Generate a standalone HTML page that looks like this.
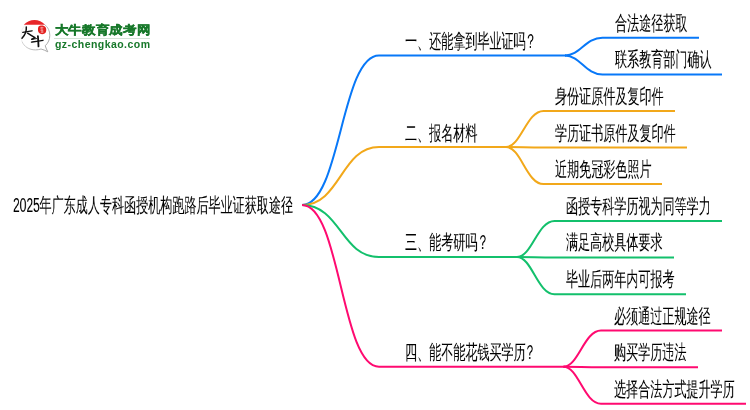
<!DOCTYPE html>
<html><head><meta charset="utf-8">
<style>
html,body{margin:0;padding:0;background:#fff;}
body{width:750px;height:410px;position:relative;overflow:hidden;font-family:"Liberation Sans",sans-serif;}
.t{position:absolute;white-space:nowrap;color:#000;font-size:20px;line-height:19px;transform-origin:0 0;transform:scaleX(0.6035);will-change:transform;-webkit-text-stroke:0.06px #000;}
svg{position:absolute;left:0;top:0;}
</style></head><body>
<svg width="750" height="410" viewBox="0 0 750 410" fill="none" stroke-width="2" stroke-linecap="butt">
  <!-- main branches -->
  <path d="M302,205 C340.5,205 341,55.5 379,55.5 L566,55.5" stroke="#0878F8"/>
  <path d="M302,205 C340.5,205 341,147 379,147 L506,147" stroke="#F2A81A"/>
  <path d="M302,205 C340.5,205 341,257 379,257 L518,257" stroke="#13C06C"/>
  <path d="M302,205 C340.5,205 341,366.7 379,366.7 L566,366.7" stroke="#FF0A70"/>
              <!-- branch 1 subs -->
  <path d="M565,55.5 C580,55.5 585.5,37.8 602.5,37.8 L699,37.8" stroke="#0878F8"/>
  <path d="M565,55.5 C580,55.5 585.5,74.6 602.5,74.6 L722,74.6" stroke="#0878F8"/>
  <!-- branch 2 subs -->
  <path d="M506,147 C521,147 526.5,111 543.5,111 L675,111" stroke="#F2A81A"/>
  <path d="M506,147 C521,147 526.5,147.6 543.5,147.6 L687,147.6" stroke="#F2A81A"/>
  <path d="M506,147 C521,147 526.5,184.1 543.5,184.1 L662,184.1" stroke="#F2A81A"/>
  <!-- branch 3 subs -->
  <path d="M517,257 C532,257 537.5,220.9 554.5,220.9 L722,220.9" stroke="#13C06C"/>
  <path d="M517,257 C532,257 537.5,257.6 554.5,257.6 L674,257.6" stroke="#13C06C"/>
  <path d="M517,257 C532,257 537.5,294.2 554.5,294.2 L686,294.2" stroke="#13C06C"/>
  <!-- branch 4 subs -->
  <path d="M563.5,366.7 C578.5,366.7 584.0,330.5 601.0,330.5 L722,330.5" stroke="#FF0A70"/>
  <path d="M563.5,366.7 C578.5,366.7 584.0,367.2 601.0,367.2 L698,367.2" stroke="#FF0A70"/>
  <path d="M563.5,366.7 C578.5,366.7 584.0,403.7 601.0,403.7 L746,403.7" stroke="#FF0A70"/>
</svg>

<div class="logo" style="position:absolute;left:0;top:0;width:160px;height:60px;will-change:transform;">
<svg width="60" height="60" viewBox="0 0 60 60" style="left:0;top:0;">
  <defs><linearGradient id="og" x1="0" y1="0" x2="1" y2="0.6"><stop offset="0" stop-color="#e6e6e6"/><stop offset="1" stop-color="#a8a8a8"/></linearGradient></defs>
  <path d="M44.5,24.5 C48,27 49.8,31 49.8,35.2 C49.8,39.5 48.2,43 45.2,45.8 C46,48 46.8,50 47.8,51.8 C45.5,50.5 43,49.5 41,49 C39.2,49.6 37.3,49.9 35.5,49.9 C29,49.9 24,46.5 22,41.5" stroke="url(#og)" stroke-width="1" fill="none"/>
  <path d="M22,41.5 C21.2,39.5 21,37.5 21,35.5 C21,31 22.8,27.2 25.5,24.8" stroke="#ececec" stroke-width="0.8" fill="none"/>
  <path d="M23.8,24.8 C26.5,21.6 30.5,20 34.5,20 C38.5,20 42.3,21.6 45,24.8 Z" fill="#e8262a"/>
  <path d="M38.6,26.6 C40.3,24.9 44.2,25.2 45.6,27.2 C46.8,29.2 46.4,32.3 44.6,33.6 C42.5,34.8 39.2,34.2 38.3,31.8 C37.8,30.2 37.7,28 38.6,26.6 Z" fill="#e3201f"/>
  <g stroke="#fff" stroke-width="0.55" fill="none" opacity="0.85"><path d="M40,28 l3.5,-0.3 M40.3,30.2 l3,0 M40.8,32.2 l2.8,-0.2 M41.8,26.8 l0.3,6"/></g>
  <g stroke="#111" stroke-linecap="round" fill="none">
    <path d="M22.8,32.4 C25.5,31.8 29,31.2 32,30.8" stroke-width="1.35"/>
    <path d="M26.3,27 C26.6,30.5 25.5,34.5 22,38.2" stroke-width="1.5"/>
    <path d="M27.6,33.2 C30,34.8 32.5,36.3 35,37.7 C34,38.4 33,38.9 31.8,39.3" stroke-width="1.5" stroke-linejoin="round"/>
    <path d="M32,39.3 L36.5,38.6" stroke-width="1"/>
    <path d="M31.5,42.1 C35,41.5 39,40.8 43,40.3" stroke-width="1.35"/>
    <path d="M37.9,36.2 C38.2,39.5 38.4,43 38.5,46.4" stroke-width="1.8"/>
  </g>
</svg>
<div style="position:absolute;left:54.5px;top:24px;font-size:13px;line-height:14px;font-weight:bold;color:#17782a;-webkit-text-stroke:0.45px #17782a;letter-spacing:0.7px;transform-origin:0 0;transform:scaleY(0.89);white-space:nowrap;">大牛教育成考网</div>
<div style="position:absolute;left:54px;top:38.2px;width:96px;height:1.2px;background:#d3e3d6;"></div>
<div style="position:absolute;left:55px;top:38.2px;font-size:10.5px;line-height:12px;font-weight:bold;color:#17782a;letter-spacing:0.45px;white-space:nowrap;">gz-chengkao.com</div>
</div>

<div class="t" style="left:13px;top:196px;">2025年广东成人专科函授机构跑路后毕业证获取途径</div>

<div class="t" style="left:405px;top:32px;">一、还能拿到毕业证<span style="letter-spacing:-2.1px">吗</span>？</div>
<div class="t" style="left:615px;top:14px;">合法途径获取</div>
<div class="t" style="left:615px;top:50px;">联系教育部门确认</div>

<div class="t" style="left:405px;top:124px;">二、报名材料</div>
<div class="t" style="left:555px;top:87px;">身份证原件及复印件</div>
<div class="t" style="left:555px;top:124px;">学历证书原件及复印件</div>
<div class="t" style="left:555px;top:160px;">近期免冠彩色照片</div>

<div class="t" style="left:405px;top:233px;">三、能考研<span style="letter-spacing:-1.05px">吗</span>？</div>
<div class="t" style="left:566px;top:197px;">函授专科学历视为同等学力</div>
<div class="t" style="left:566px;top:233px;">满足高校具体要求</div>
<div class="t" style="left:566px;top:270px;">毕业后两年内可报考</div>

<div class="t" style="left:404.8px;top:343px;">四、能不能花钱买学<span style="letter-spacing:-3.15px">历</span>？</div>
<div class="t" style="left:614px;top:307px;">必须通过正规途径</div>
<div class="t" style="left:614px;top:343px;">购买学历违法</div>
<div class="t" style="left:614px;top:380px;">选择合法方式提升学历</div>

</body></html>
